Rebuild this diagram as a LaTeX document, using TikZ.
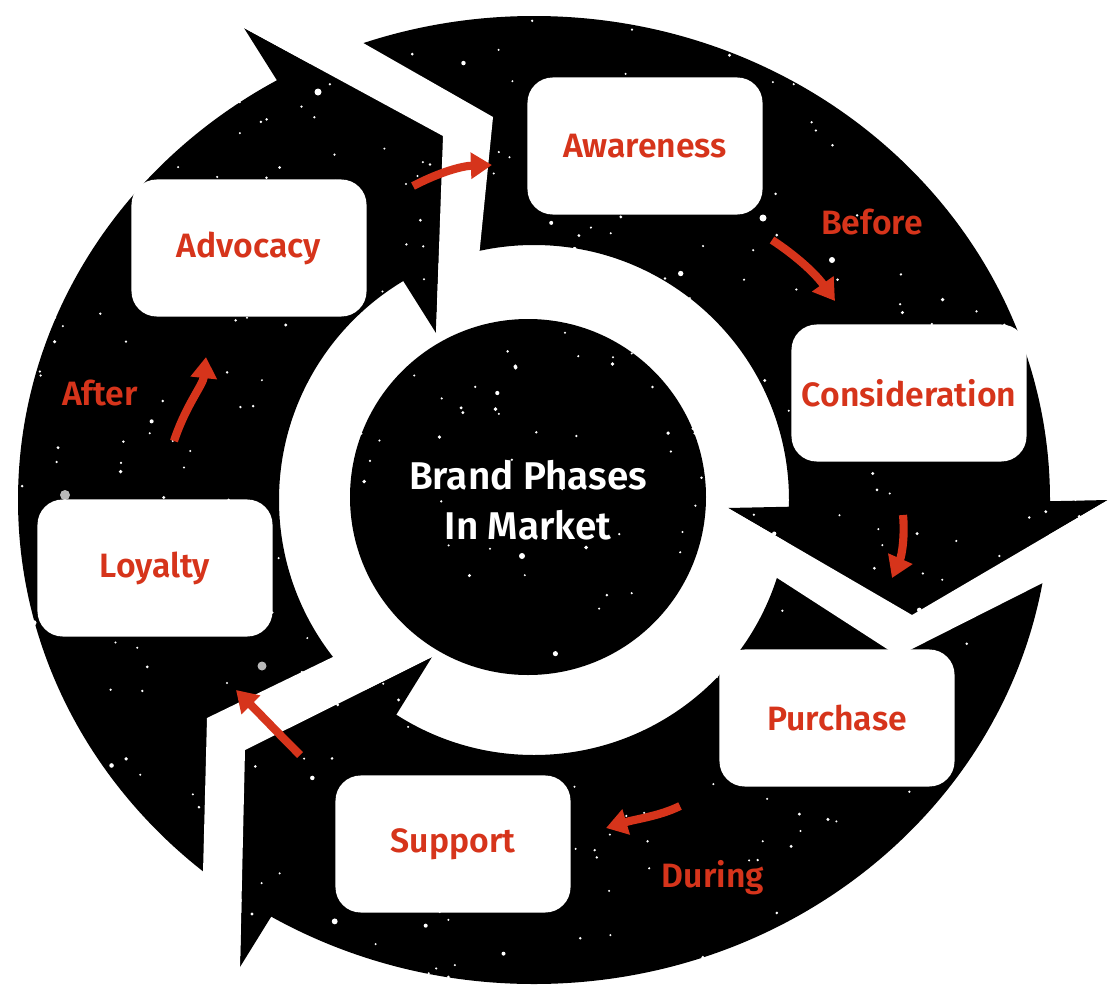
\documentclass[tikz,border=0pt]{standalone}
\usepackage{fontspec}
\setmainfont{Fira Sans}[BoldFont={* SemiBold}]
\usetikzlibrary{arrows.meta}
\definecolor{brandred}{RGB}{214,52,27}
\tikzset{
  phasebox/.style={fill=white, rounded corners=18pt, minimum width=5.875cm,
    minimum height=3.425cm, text=brandred, font=\fontsize{24}{28}\selectfont\bfseries},
  phaselabel/.style={text=brandred, font=\fontsize{24}{28}\selectfont\bfseries},
  flowarrow/.style={draw=brandred, line width=5.8pt, -{Triangle[width=18pt,length=15pt]}},
}
\begin{document}
\begin{tikzpicture}[x=0.025cm,y=-0.025cm,line join=round]
  \useasboundingbox[fill=white] (0,0) rectangle (1120,1000);

  % Arrow heads (wing out, tip, wing in)
  \coordinate (Cwo) at (244,28);
  \coordinate (Ctip) at (443,136);
  \coordinate (Cwi) at (436,333);
  \coordinate (Awi) at (728,508);
  \coordinate (Atip) at (912,615);
  \coordinate (Awo) at (1108,500);
  \coordinate (Bwi) at (432,657);
  \coordinate (Btip) at (245,750);
  \coordinate (Bwo) at (240,967);
  % Arrow tails (inner, notch, outer)
  \coordinate (Ati) at (475,297);
  \coordinate (Av) at (493,117);
  \coordinate (Ato) at (300,7);
  \coordinate (Bti) at (740,554);
  \coordinate (Bv) at (898,656);
  \coordinate (Bto) at (1100,554);
  \coordinate (Cti) at (370,639);
  \coordinate (Cv) at (207,718);
  \coordinate (Cto) at (201,950);

  % Black ring
  \fill[even odd rule] (534,500) ellipse [x radius=516, y radius=484]
    (534,500) circle [radius=255];

  % Heads
  \fill (Cwo) -- (Ctip) -- (Cwi) -- cycle;
  \fill (Awi) -- (Atip) -- (Awo) -- cycle;
  \fill (Bwi) -- (Btip) -- (Bwo) -- cycle;

  % Gaps between the arrows
  \fill[white] (Cwo) -- (Ctip) -- (Cwi) -- (Ati) -- (Av) -- (Ato) -- cycle;
  \fill[white] (Awo) -- (Atip) -- (Awi) -- (Bti) -- (Bv) -- (Bto) -- cycle;
  \fill[white] (Bwi) -- (Btip) -- (Bwo) -- (Cto) -- (Cv) -- (Cti) -- cycle;

  % Centre disk
  \fill (528,497) circle [radius=178];

  % Stars
  \pgfmathsetseed{2024}
  \foreach \i in {1,...,600} {
    \pgfmathsetmacro{\sx}{rnd*1120}
    \pgfmathsetmacro{\sy}{rnd*1000}
    \pgfmathsetmacro{\sr}{1.1+2.2*rnd*rnd*rnd}
    \fill[white] (\sx,\sy) circle [radius=\sr];
  }
  \fill[gray!55] (65,495) circle [radius=5];
  \fill[gray!55] (262,666) circle [radius=4.5];
  \fill[white] (318,92) circle [radius=3.5];
  \fill[white] (763,218) circle [radius=3.5];
  \fill[white] (832,260) circle [radius=3];
  \fill[white] (522,556) circle [radius=3];

  % Phases
  \node[phasebox] (awareness) at (645,146) {Awareness};
  \node[phasebox] (consideration) at (909,393) {Consideration};
  \node[phasebox] (purchase) at (837,718) {Purchase};
  \node[phasebox] (support) at (453,844) {Support};
  \node[phasebox] (loyalty) at (155,568) {Loyalty};
  \node[phasebox] (advocacy) at (249,248) {Advocacy};

  \node[phaselabel] (before) at (872,222) {Before};
  \node[phaselabel] (during) at (713,878) {During};
  \node[phaselabel] (after) at (100,393) {After};

  \node[text=white, align=center, font=\fontsize{27.5}{36}\selectfont\bfseries]
    (title) at (528,500) {Brand Phases\\In Market};

  % Red arrows
  \coordinate (s1) at (413,186);
  \coordinate (e1) at (492,165);
  \coordinate (s2) at (772,240);
  \coordinate (e2) at (835,301);
  \coordinate (s3) at (903,515);
  \coordinate (e3) at (892,578);
  \coordinate (s4) at (680,806);
  \coordinate (e4) at (606,828);
  \coordinate (s5) at (300,755);
  \coordinate (e5) at (236,690);
  \coordinate (s6) at (174,441);
  \coordinate (e6) at (206,357);
  \draw[flowarrow] (s1) .. controls (440,172) and (462,166) .. (e1);
  \draw[flowarrow] (s2) .. controls (795,255) and (815,273) .. (e2);
  \draw[flowarrow] (s3) .. controls (905,535) and (902,555) .. (e3);
  \draw[flowarrow] (s4) .. controls (660,816) and (636,819) .. (e4);
  \draw[flowarrow] (s5) .. controls (280,735) and (258,712) .. (e5);
  \draw[flowarrow] (s6) .. controls (186,405) and (203,385) .. (e6);
\end{tikzpicture}
\end{document}
